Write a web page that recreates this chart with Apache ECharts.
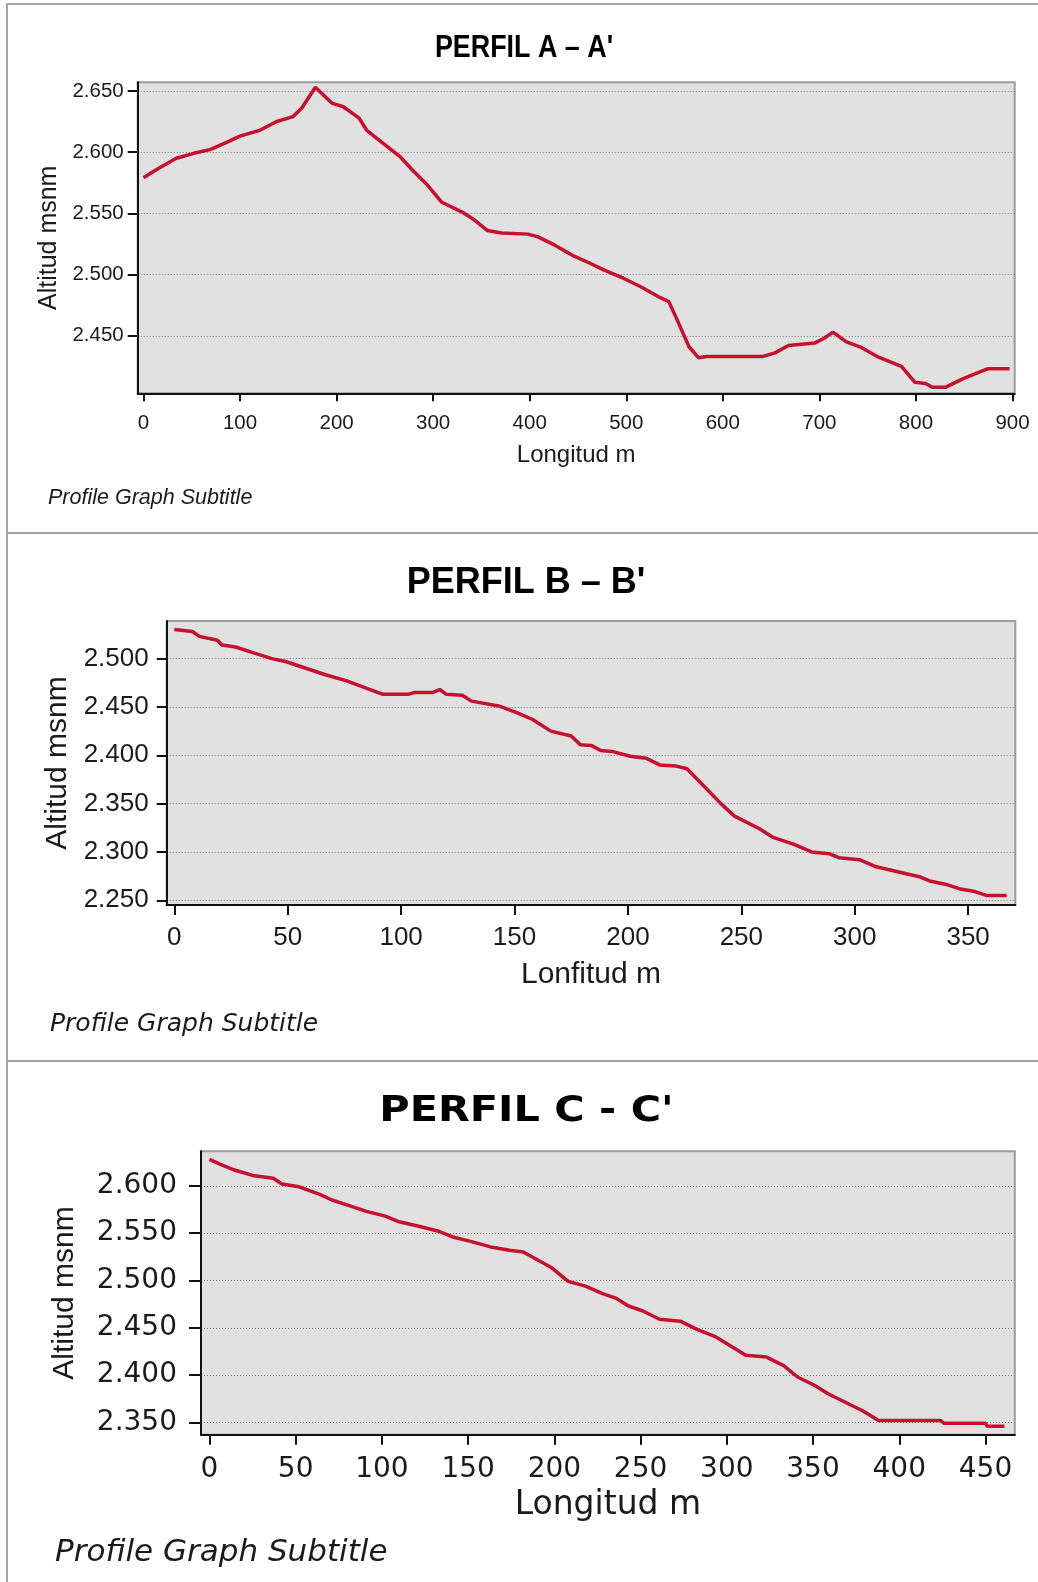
<!DOCTYPE html>
<html><head><meta charset="utf-8">
<script src="https://cdn.jsdelivr.net/npm/echarts@6/dist/echarts.min.js"></script>
<style>html,body{margin:0;padding:0;background:#fff}#c{width:1038px;height:1582px}</style>
</head><body><div id="c"></div><script>
// ---- Data ----
const titles = ["PERFIL A \u2013 A'", "PERFIL B \u2013 B'", "PERFIL C - C'"];
const subtitle = "Profile Graph Subtitle";
const xNames = ["Longitud m", "Lonfitud m", "Longitud m"];
const yName = "Altitud msnm";

const distA = [0,14,34,52,69,86,100,121,138,155,164,178,195,207,223,231,242,266,279,293,309,330,342,356,371,398,408,426,446,463,476,497,515,533,544,551,565,575,583,641,654,668,695,705,714,728,742,760,785,799,810,817,831,849,874,897];
const altA  = [2579,2586,2595,2599,2602,2608,2613,2618,2625,2629,2636,2653,2640,2637,2628,2618,2611,2596,2585,2574,2559,2551,2545,2536,2534,2533,2531,2524,2515,2509,2504,2497,2490,2482,2478,2466,2441,2432,2433,2433,2436,2442,2444,2448,2453,2445,2441,2433,2425,2412,2411,2408,2408,2415,2423,2423];

const distB = [0,8,11,19,21,27,35,43,49,58,67,76,84,92,103,106,114,117,120,127,131,143,151,158,166,175,179,184,188,193,201,208,214,221,226,234,241,247,258,264,273,281,289,293,302,309,318,329,333,341,346,353,358,367];
const altB  = [2530,2528,2523,2519,2514,2512,2506,2500,2497,2490,2483,2477,2470,2463,2463,2465,2465,2468,2463,2462,2456,2451,2444,2437,2425,2420,2411,2410,2405,2404,2399,2397,2390,2389,2386,2367,2350,2337,2324,2315,2308,2300,2298,2294,2292,2285,2280,2274,2270,2266,2262,2259,2255,2255];

const distC = [0,6,14,25,37,42,52,64,71,81,91,102,110,122,133,141,152,164,174,182,188,198,208,218,228,236,243,251,261,273,283,293,303,311,323,333,341,351,359,369,379,388,424,426,450,451,461];
const altC  = [2628,2623,2617,2611,2608,2602,2599,2591,2585,2579,2573,2568,2562,2557,2552,2546,2541,2535,2532,2530,2524,2514,2499,2494,2486,2481,2473,2468,2459,2457,2448,2441,2430,2421,2419,2410,2398,2389,2380,2371,2362,2352,2352,2349,2349,2346,2346];

const xTicksA = [0,100,200,300,400,500,600,700,800,900];
const yTicksA = [2450,2500,2550,2600,2650];
const xTicksB = [0,50,100,150,200,250,300,350];
const yTicksB = [2250,2300,2350,2400,2450,2500];
const xTicksC = [0,50,100,150,200,250,300,350,400,450];
const yTicksC = [2350,2400,2450,2500,2550,2600];

// ---- Build ----
const fmtY = v => Math.floor(v/1000) + '.' + String(Math.round(v%1000)).padStart(3,'0');
const zip = (a,b) => a.map((d,i)=>[d,b[i]]);

const panels = [
  {grid:{left:137.7, top:82.3, width:877, height:311},
   x:{min:-6, max:902.3, ticks:xTicksA}, y:{min:2403, max:2657, ticks:yTicksA},
   data:zip(distA,altA),
   lab:{font:'Liberation Sans', size:20.5, ym:14, xm:20, yt:10, xt:8},
   xn:{size:24, gap:50, font:'Liberation Sans'}, yn:{size:25, gap:65, font:'Liberation Sans'}},
  {grid:{left:166.7, top:621, width:848.6, height:284},
   x:{min:-3.35, max:370.8, ticks:xTicksB}, y:{min:2245.1, max:2538.9, ticks:yTicksB},
   data:zip(distB,altB),
   lab:{font:'Liberation Sans', size:26, ym:18, xm:20, yt:10, xt:10},
   xn:{size:30, gap:55, font:'Liberation Sans'}, yn:{size:30, gap:90, font:'Liberation Sans'}},
  {grid:{left:201, top:1151.2, width:813.8, height:283.5},
   x:{min:-4.9, max:467, ticks:xTicksC}, y:{min:2337, max:2636.6, ticks:yTicksC},
   data:zip(distC,altC),
   lab:{font:'DejaVu Sans', size:28, ym:24, xm:21, yt:12, xt:10},
   xn:{size:33, gap:54, font:'DejaVu Sans'}, yn:{size:30, gap:121, font:'Liberation Sans'}}
];

const grid=[], xAxis=[], yAxis=[], series=[];
panels.forEach((p,i)=>{
  grid.push(Object.assign({show:true, backgroundColor:'#e0e0e0', borderColor:'#9c9c9c', borderWidth:2, containLabel:false}, p.grid));
  xAxis.push({type:'value', gridIndex:i, min:p.x.min, max:p.x.max,
    name:xNames[i], nameLocation:'middle', nameGap:p.xn.gap,
    nameTextStyle:{fontFamily:p.xn.font, fontSize:p.xn.size, color:'#1a1a1a'},
    axisLine:{show:true, onZero:false, lineStyle:{color:'#111', width:2}},
    axisTick:{show:true, inside:false, length:p.lab.xt, customValues:p.x.ticks, lineStyle:{color:'#111', width:2}},
    axisLabel:{customValues:p.x.ticks, margin:p.lab.xm, fontFamily:p.lab.font, fontSize:p.lab.size, color:'#1a1a1a'},
    splitLine:{show:false}});
  yAxis.push({type:'value', gridIndex:i, min:p.y.min, max:p.y.max,
    name:yName, nameLocation:'middle', nameGap:p.yn.gap, nameRotate:90,
    nameTextStyle:{fontFamily:p.yn.font, fontSize:p.yn.size, color:'#1a1a1a'},
    axisLine:{show:true, onZero:false, lineStyle:{color:'#111', width:2}},
    axisTick:{show:true, inside:false, length:p.lab.yt, customValues:p.y.ticks, lineStyle:{color:'#111', width:2}},
    axisLabel:{customValues:p.y.ticks, margin:p.lab.ym, fontFamily:p.lab.font, fontSize:p.lab.size, color:'#1a1a1a', formatter:fmtY},
    splitLine:{show:true, lineStyle:{color:'#808080', width:1, type:[1,2]}}});
  series.push({type:'line', xAxisIndex:i, yAxisIndex:i, data:p.data, showSymbol:false, symbol:'none',
    lineStyle:{color:'#c8102e', width:3.5}, clip:true, animation:false, silent:true});
});

const line = (x1,y1,x2,y2)=>({type:'line', shape:{x1,y1,x2,y2}, style:{stroke:'#a3a3a3', lineWidth:2}, silent:true});
const graphic = [
  line(7,4,1038,4), line(7,3,7,1582), line(7,533,1038,533), line(7,1061,1038,1061),
  {type:'text', x:524, y:48, scaleX:0.84, style:{text:titles[0], fontFamily:'Liberation Sans', fontWeight:'bold', fontSize:32, fill:'#000', align:'center', verticalAlign:'middle'}},
  {type:'text', x:526, y:583, style:{text:titles[1], fontFamily:'Liberation Sans', fontWeight:'bold', fontSize:36, fill:'#000', align:'center', verticalAlign:'middle'}},
  {type:'text', x:526.5, y:1111.5, scaleX:1.15, style:{text:titles[2], fontFamily:'DejaVu Sans', fontWeight:'bold', fontSize:36, fill:'#000', align:'center', verticalAlign:'middle'}},
  {type:'text', x:48, y:498, style:{text:subtitle, fontFamily:'Liberation Sans', fontStyle:'italic', fontSize:21.5, fill:'#1a1a1a', align:'left', verticalAlign:'middle'}},
  {type:'text', x:50, y:1024, style:{text:subtitle, fontFamily:'DejaVu Sans', fontStyle:'italic', fontSize:25, fill:'#1a1a1a', align:'left', verticalAlign:'middle'}},
  {type:'text', x:55, y:1553, style:{text:subtitle, fontFamily:'DejaVu Sans', fontStyle:'italic', fontSize:31, fill:'#1a1a1a', align:'left', verticalAlign:'middle'}}
];

const chart = echarts.init(document.getElementById('c'), null, {renderer:'canvas'});
chart.setOption({animation:false, backgroundColor:'#fff', grid, xAxis, yAxis, series, graphic});
</script></body></html>
